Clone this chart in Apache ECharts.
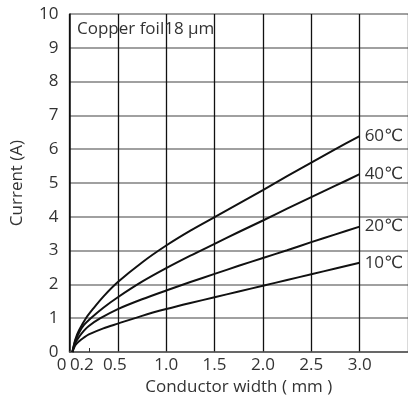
<!DOCTYPE html>
<html><head><meta charset="utf-8">
<script src="https://cdn.jsdelivr.net/npm/echarts@6/dist/echarts.min.js"></script>
<style>html,body{margin:0;padding:0;background:#fff}#c{width:408px;height:401px}</style>
</head><body><div id="c"></div>
<script>
// Data
const xLabelValues = [0, 0.2, 0.5, 1.0, 1.5, 2.0, 2.5, 3.0];
const xMinorTickValues = [0.2];
const seriesNames = ['60℃', '40℃', '20℃', '10℃'];
const curve60 = [[0.03,0],[0.06,0.37],[0.1,0.65],[0.17,1.0],[0.25,1.3],[0.35,1.64],[0.5,2.07],[0.75,2.65],[1.0,3.15],[1.25,3.59],[1.5,3.99],[1.75,4.39],[2.0,4.79],[2.25,5.2],[2.5,5.6],[2.75,6.0],[3.0,6.39]];
const curve40 = [[0.03,0],[0.06,0.33],[0.1,0.58],[0.15,0.8],[0.22,1.0],[0.35,1.31],[0.5,1.62],[0.75,2.08],[1.0,2.48],[1.25,2.85],[1.5,3.2],[1.75,3.55],[2.0,3.89],[2.25,4.24],[2.5,4.58],[2.75,4.92],[3.0,5.26]];
const curve20 = [[0.03,0],[0.06,0.27],[0.1,0.45],[0.15,0.63],[0.2,0.77],[0.32,1.0],[0.5,1.27],[0.75,1.56],[1.0,1.82],[1.25,2.07],[1.5,2.31],[1.75,2.55],[2.0,2.78],[2.25,3.01],[2.5,3.25],[2.75,3.48],[3.0,3.71]];
const curve10 = [[0.03,0],[0.06,0.2],[0.1,0.32],[0.15,0.43],[0.2,0.52],[0.35,0.7],[0.5,0.84],[0.75,1.07],[1.0,1.27],[1.25,1.45],[1.5,1.62],[1.75,1.79],[2.0,1.96],[2.25,2.13],[2.5,2.3],[2.75,2.47],[3.0,2.64]];
const curves = [curve60, curve40, curve20, curve10];

const FONT = '"Open Sans", "DejaVu Sans", sans-serif';
const TXT = '#333';
const FS = 17;
const chart = echarts.init(document.getElementById('c'), null, {renderer: 'canvas'});

const option = {
  animation: false,
  backgroundColor: '#fff',
  title: {
    text: 'Copper foil18 μm',
    left: 77, top: 21, padding: 0,
    textStyle: {fontFamily: FONT, fontSize: FS, fontWeight: 'normal', color: TXT}
  },
  grid: {left: 69.5, top: 14, right: -2, bottom: 47, containLabel: false},
  xAxis: [{
    type: 'value', min: 0, max: 3.5, interval: 0.5,
    name: 'Conductor width ( mm )', nameLocation: 'middle', nameGap: 27,
    nameTextStyle: {fontFamily: FONT, fontSize: FS, color: TXT},
    axisLine: {show: true, lineStyle: {color: '#555', width: 1.5}},
    axisTick: {show: false},
    axisLabel: {
      customValues: xLabelValues, margin: 5, hideOverlap: false,
      fontFamily: FONT, fontSize: FS, color: TXT,
      formatter: v => v === 0 ? '{a|0}' : (Math.abs(v-0.2) < 1e-9 ? '{b|0.2}' : (Math.abs(v-0.5) < 1e-9 ? '{c|0.5}' : v.toFixed(1))),
      rich: {
        a: {fontFamily: FONT, fontSize: FS, color: TXT, padding: [0, 16, 0, 0]},
        b: {fontFamily: FONT, fontSize: FS, color: TXT, padding: [0, 14, 0, 0]},
        c: {fontFamily: FONT, fontSize: FS, color: TXT, padding: [0, 6, 0, 0]}
      }
    },
    splitLine: {show: true, lineStyle: {color: '#111', width: 1.3}}
  }, {
    type: 'value', min: 0, max: 3.5, position: 'bottom', offset: 0,
    axisLine: {show: false},
    axisLabel: {show: false},
    splitLine: {show: false},
    axisTick: {show: true, inside: true, length: 4, customValues: xMinorTickValues, lineStyle: {color: '#333', width: 1}}
  }],
  yAxis: {
    type: 'value', min: 0, max: 10, interval: 1,
    name: 'Current (A)', nameLocation: 'middle', nameGap: 44,
    nameTextStyle: {fontFamily: FONT, fontSize: FS, color: TXT},
    axisLine: {show: true, lineStyle: {color: '#111', width: 1.5}},
    axisTick: {show: false},
    axisLabel: {margin: 11, fontFamily: FONT, fontSize: FS, color: TXT},
    splitLine: {show: true, lineStyle: {color: '#808080', width: 1.5}}
  },
  series: curves.map((d, i) => ({
    name: seriesNames[i],
    type: 'line', data: d, smooth: 0.3, symbol: 'none',
    lineStyle: {color: '#111', width: 2},
    endLabel: {show: true, formatter: seriesNames[i], distance: 5, fontFamily: FONT, fontSize: FS, color: TXT},
    z: 5
  }))
};
chart.setOption(option);
</script>
</body></html>
